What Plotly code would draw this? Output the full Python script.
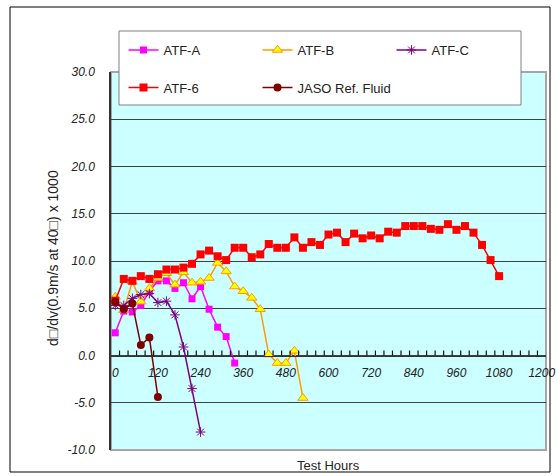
import plotly.graph_objects as go

# ---------------- data ----------------
HOURS = [0, 24, 48, 72, 96, 120, 144, 168, 192, 216, 240, 264, 288, 312, 336,
         360, 384, 408, 432, 456, 480, 504, 528, 552, 576, 600, 624, 648, 672,
         696, 720, 744, 768, 792, 816, 840, 864, 888, 912, 936, 960, 984, 1008,
         1032, 1056, 1080]

ATF_A = [2.4, 4.7, 4.6, 5.3, 6.8, 7.9, 7.9, 7.1, 7.7, 6.0, 7.3, 4.9, 3.0, 2.0, -0.8]
ATF_B = [6.2, 4.8, 7.8, 5.7, 7.1, 8.2, 8.7, 7.5, 8.8, 7.7, 7.8, 8.2, 9.8, 8.9,
         7.3, 6.8, 6.1, 4.9, 0.1, -0.8, -0.8, 0.5, -4.5]
ATF_C = [5.3, 5.3, 6.05, 6.45, 6.55, 5.6, 5.75, 4.3, 0.9, -3.5, -8.1]
ATF_6 = [5.8, 8.1, 7.9, 8.4, 8.1, 8.6, 9.1, 9.1, 9.3, 9.7,
         10.7, 11.1, 10.5, 10.1, 11.4, 11.4, 10.4, 10.7, 11.8, 11.4,
         11.4, 12.5, 11.4, 12.0, 11.7, 12.8, 13.0, 12.0, 12.9, 12.4,
         12.7, 12.4, 13.1, 13.0, 13.7, 13.7, 13.7, 13.4, 13.3, 13.9,
         13.3, 13.7, 13.0, 11.7, 10.1, 8.4]
JASO = [5.7, 4.9, 5.5, 1.1, 1.9, -4.4]

X_TICKS = [0, 120, 240, 360, 480, 600, 720, 840, 960, 1080, 1200]
X_LABELS = ["0", "120", "240", "360", "480", "600", "720", "840", "960", "1080", "1200"]
Y_TICKS = [30, 25, 20, 15, 10, 5, 0, -5, -10]
Y_LABELS = ["30.0", "25.0", "20.0", "15.0", "10.0", "5.0", "0.0", "-5.0", "-10.0"]

STEP = 24          # one category per measurement interval
X_RANGE = [-12, 1212]
Y_RANGE = [-10, 30]

FONT = "Liberation Sans"

# ---------------- figure ----------------
fig = go.Figure()

def add(name, vals, legend, line_color, symbol, size, mcolor, mline=None, mlw=0):
    fig.add_trace(go.Scatter(
        x=HOURS[:len(vals)], y=vals, name=name, mode="lines+markers",
        line=dict(color=line_color, width=1.5),
        marker=dict(symbol=symbol, size=size, color=mcolor,
                    line=dict(color=mline or mcolor, width=mlw)),
        legend=legend, cliponaxis=False))

add("ATF-A", ATF_A, "legend", "#FF00FF", "square", 7, "#FF00FF")
add("ATF-B", ATF_B, "legend", "#FF9900", "triangle-up", 9, "#FFFF00", "#FF9900", 1)
add("ATF-C", ATF_C, "legend", "#800080", "asterisk-open", 8, "#800080", "#800080", 1)
add("ATF-6", ATF_6, "legend2", "#FF0000", "square", 8, "#FF0000")
add("JASO Ref. Fluid", JASO, "legend2", "#800000", "circle", 8, "#800000")

L, R, T, B = 111, 11, 72, 26
W, H = 557, 476
PW, PH = W - L - R, H - T - B

def px(x):
    return (x - L) / PW

def py(y):
    return (H - B - y) / PH

tickfont = dict(family=FONT, size=12, color="#222222", style="italic")

# x axis crosses the value axis at 0
AXIS_POS = (0 - Y_RANGE[0]) / (Y_RANGE[1] - Y_RANGE[0])
TICK_LEN = 5 / PH

# small tick marks at the category boundaries (paper coordinates)
boundaries = []
b = X_RANGE[0] + STEP
while b < X_RANGE[1]:
    boundaries.append(b)
    b += STEP

def xfrac(v):
    return (v - X_RANGE[0]) / (X_RANGE[1] - X_RANGE[0])

tick_shapes = [dict(type="line", xref="paper", yref="paper", x0=xfrac(v), x1=xfrac(v),
                    y0=AXIS_POS, y1=AXIS_POS + TICK_LEN,
                    line=dict(color="#111111", width=1.2), layer="above")
               for v in boundaries]

fig.update_layout(
    width=W, height=H,
    margin=dict(l=L, r=R, t=T, b=B, autoexpand=False),
    paper_bgcolor="white", plot_bgcolor="#CCFFFF",
    font=dict(family=FONT, size=13, color="#222222"),
    xaxis=dict(range=X_RANGE, anchor="free", position=AXIS_POS,
               showline=True, linecolor="#333333", linewidth=1,
               tickmode="array", tickvals=X_TICKS, ticktext=X_LABELS, ticks="",
               showgrid=False, zeroline=False, tickfont=tickfont,
               ticklabelstandoff=6),
    yaxis=dict(range=Y_RANGE, tickmode="array", tickvals=Y_TICKS, ticktext=Y_LABELS,
               ticks="", showgrid=True, gridcolor="#404040", gridwidth=1,
               showline=True, linecolor="#333333", linewidth=1.5, zeroline=False,
               tickfont=tickfont, ticklabelstandoff=12),
    legend=dict(orientation="h", x=px(123.5), xanchor="left", y=py(35), yanchor="top",
                entrywidth=89, entrywidthmode="pixels", bgcolor="rgba(0,0,0,0)",
                borderwidth=0, font=dict(family=FONT, size=13, color="#222222"),
                tracegroupgap=0),
    legend2=dict(orientation="h", x=px(123.5), xanchor="left", y=py(72.5), yanchor="top",
                 entrywidth=89, entrywidthmode="pixels", bgcolor="rgba(0,0,0,0)",
                 borderwidth=0, font=dict(family=FONT, size=13, color="#222222"),
                 tracegroupgap=0),
    showlegend=True,
    shapes=[
        dict(type="rect", xref="paper", yref="paper", x0=0, x1=1, y0=0, y1=1,
             line=dict(color="#A6A6A6", width=2), layer="below"),
        *tick_shapes,
        dict(type="rect", xref="paper", yref="paper", x0=px(10), x1=px(550),
             y0=py(472), y1=py(7), line=dict(color="black", width=1)),
        dict(type="rect", xref="paper", yref="paper", x0=px(119), x1=px(521),
             y0=py(105), y1=py(31), line=dict(color="#808080", width=1),
             fillcolor="white", layer="above"),
    ],
    annotations=[
        dict(text="Test Hours", xref="paper", yref="paper", x=px(328), y=py(465),
             showarrow=False, xanchor="center", yanchor="middle",
             font=dict(family=FONT, size=13, color="#222222")),
        dict(text="d□/dv(0.9m/s at 40□) x 1000", xref="paper", yref="paper",
             x=px(53), y=py(258), showarrow=False, textangle=-90,
             xanchor="center", yanchor="middle",
             font=dict(family=FONT, size=14, color="#222222")),
    ],
)

fig.write_html("out.html")
